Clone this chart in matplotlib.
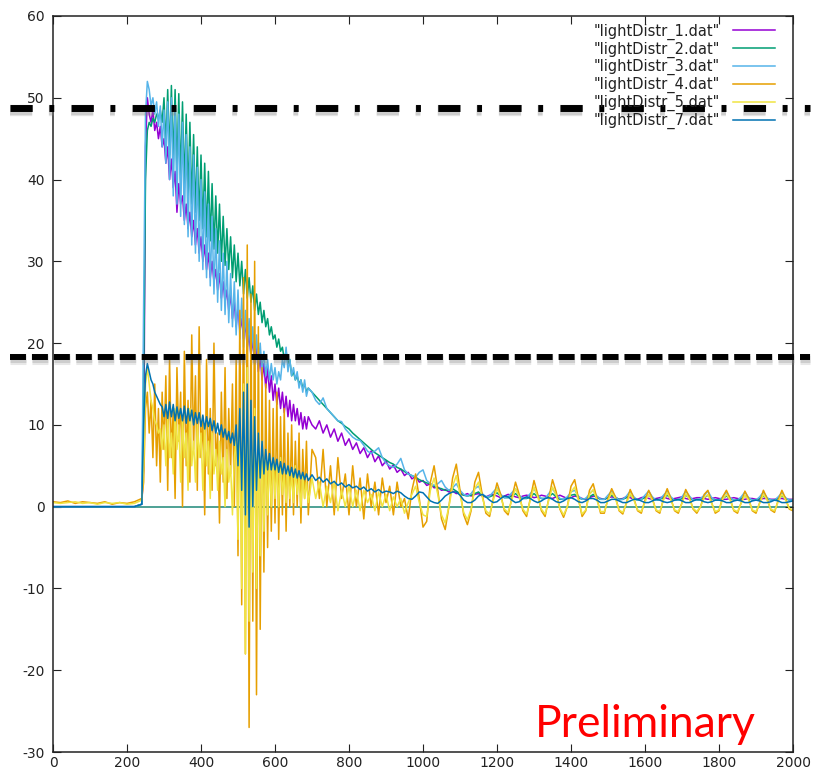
import numpy as np
import matplotlib
matplotlib.use('agg')
import matplotlib.pyplot as plt

# sample positions: coarse before the pulse, fine through the noisy part, medium in the tail
X_HEAD = np.arange(0, 241, 20)
X_MID = np.arange(245, 691, 5)
X_TAIL = np.arange(700, 2001, 10)

HEAD_ZERO = [0, 0, 0, 0, 0, 0, 0, 0, 0, 0, 0, 0, 0.3]

# lightDistr_1
D1_MID = [5, 44, 50, 48, 47, 48.5, 46, 47, 45, 46.5,
          44, 45, 42, 44, 40, 42.5, 39, 41, 36, 39.5,
          37, 38, 35, 37, 34, 36, 33, 35, 32, 34,
          31, 33, 30, 32, 29, 31, 28, 30, 27.5, 29,
          26.5, 28.5, 25.5, 27.5, 25, 26.5, 24, 26, 23, 25,
          22, 24.5, 21.5, 23, 20.5, 22.5, 19.5, 21, 18.5, 20.5,
          17.5, 19.5, 16.5, 18.5, 15.5, 17.5, 14.5, 17, 14, 16,
          13, 15, 12.5, 14.5, 12, 14, 11.5, 13.5, 11, 13,
          10.5, 12.5, 10.5, 12, 10, 11.5, 9.5, 11, 9.5, 11]
D1_TAIL = [10, 9.5, 10.5, 9, 10, 8.5, 9.5, 8, 9, 7.5,
           8.3, 7, 7.8, 6.5, 7.2, 6, 6.8, 5.5, 6.2, 5,
           5.6, 4.6, 5.1, 4.2, 4.6, 3.8, 4.2, 3.4, 3.7, 3,
           3.2, 2.6, 2.8, 2.3, 2.4, 2, 2.1, 1.8, 1.9, 1.6,
           1.7, 1.4, 1.6, 1.3, 1.5, 1.6, 1.3, 1.2, 1.4, 1.5,
           1.3, 1.1, 1.3, 1.5, 1.4, 1.2, 1.1, 1.3, 1.4, 1.3,
           1.1, 1.2, 1.4, 1.3, 1.1, 1.0, 1.2, 1.4, 1.2, 1.0,
           1.1, 1.3, 1.2, 1.0, 0.9, 1.1, 1.3, 1.2, 1.0, 0.9,
           1.1, 1.2, 1.1, 0.9, 1.0, 1.2, 1.1, 0.9, 0.9, 1.1,
           1.2, 1.0, 0.9, 1.0, 1.1, 1.2, 1.0, 0.9, 1.0, 1.1,
           1.2, 1.0, 0.9, 1.0, 1.1, 1.1, 1.0, 0.9, 1.0, 1.1,
           1.0, 0.9, 0.9, 1.0, 1.1, 1.0, 0.9, 0.9, 1.0, 1.0,
           0.9, 0.9, 1.0, 1.0, 0.9, 0.9, 1.0, 1.0, 0.9, 0.9,
           0.9]

# lightDistr_2
D2_MID = [15, 40, 46, 47, 46.5, 47.5, 47, 48, 47.5, 48.5,
          47, 50, 44, 51, 43, 51.5, 42, 51, 41, 50.5,
          40, 49.5, 39, 48, 38, 47, 37, 45.5, 36, 44,
          35, 43, 34, 42, 33, 41, 32.5, 39.5, 31.5, 38,
          31, 37, 30, 35.5, 29.5, 34, 29, 33, 28, 32,
          27.5, 31, 27, 30, 26, 29, 25.5, 28, 25, 27,
          24, 26, 23.5, 25, 22.5, 24, 22, 23, 21, 22,
          20.5, 21, 19.5, 20.5, 19, 19.5, 18, 19, 17.5, 18,
          16, 16.5, 15.5, 16, 15, 15.5, 14.5, 15, 14, 14.5]
D2_TAIL = [14, 13.5, 13, 12.5, 12, 11.5, 11, 10.5, 10.2, 9.8,
           9.5, 9, 8.6, 8.2, 7.8, 7.4, 7, 6.6, 6.3, 6,
           5.7, 5.4, 5.2, 4.8, 4.6, 4.3, 4, 3.8, 3.6, 3.3,
           3.1, 2.9, 2.8, 2.5, 2.3, 2.2, 2.0, 2.0, 2.2, 1.9,
           1.6, 1.4, 1.3, 1.4, 1.6, 1.8, 1.4, 1.2, 1.2, 1.4,
           1.7, 1.3, 1.1, 1.1, 1.3, 1.6, 1.2, 1.0, 1.0, 1.2,
           1.6, 1.2, 1.0, 1.0, 1.2, 1.6, 1.2, 0.9, 0.9, 1.1,
           1.4, 1.5, 1.1, 0.9, 1.0, 1.2, 1.5, 1.1, 0.9, 0.9,
           1.1, 1.4, 1.1, 0.9, 0.9, 1.1, 1.4, 1.0, 0.8, 0.9,
           1.1, 1.4, 1.0, 0.8, 0.9, 1.1, 1.4, 1.0, 0.8, 0.8,
           1.0, 1.4, 1.1, 0.8, 0.8, 0.9, 1.1, 1.4, 1.0, 0.8,
           0.8, 1.0, 1.3, 1.0, 0.8, 0.8, 1.0, 1.3, 1.0, 0.8,
           0.8, 1.0, 1.3, 1.0, 0.8, 0.8, 1.0, 1.3, 1.0, 0.8,
           0.8]

# lightDistr_3
D3_MID = [25, 48, 52, 51, 49, 50, 48, 49.5, 46.5, 49,
          44, 48.5, 42, 49.5, 40, 50, 38, 49, 37, 48,
          35.5, 47, 34.5, 45.5, 33, 44, 32, 43, 31, 41.5,
          30, 40, 29, 38.5, 28, 37, 27, 35.5, 26, 34,
          25, 32.5, 24, 31, 23.5, 30, 22.5, 28.5, 22, 27.5,
          21, 26.5, 20.5, 25.5, 19.5, 24, 19, 23, 18, 22,
          17.5, 21, 17, 20, 16.5, 19, 16, 18, 15.5, 17.5,
          15.5, 17, 15, 16.5, 15.5, 18, 17, 19.5, 16.5, 18,
          16, 17, 15.5, 16.5, 14.5, 15.5, 14, 15.5, 13.5, 14.5]
D3_TAIL = [14, 13, 12.5, 13.3, 12, 11.5, 11, 10.5, 10.4, 9.5,
           9, 8.5, 8.2, 8.1, 7.5, 6.8, 6.5, 6.8, 7.2, 6,
           5.3, 5, 4.8, 5.2, 5.9, 4.5, 4, 3.8, 3.6, 4.2,
           4.5, 3.2, 2.8, 2.6, 2.8, 3.2, 2.4, 2.0, 2.3, 2.8,
           2, 1.5, 1.3, 1.6, 2.2, 2.5, 1.6, 1.2, 1.3, 1.8,
           2.3, 1.5, 1.1, 1.2, 1.7, 2.2, 1.4, 1.0, 1.1, 1.6,
           2.2, 1.4, 1.0, 1.0, 1.6, 2.2, 1.5, 1.0, 0.9, 1.2,
           1.8, 2.0, 1.3, 0.9, 1.0, 1.6, 2.0, 1.3, 0.9, 0.9,
           1.4, 1.9, 1.2, 0.8, 0.9, 1.3, 1.9, 1.2, 0.8, 0.9,
           1.4, 1.9, 1.2, 0.8, 0.9, 1.4, 1.9, 1.2, 0.8, 0.8,
           1.2, 1.9, 1.3, 0.8, 0.8, 1.0, 1.4, 1.9, 1.1, 0.8,
           0.8, 1.2, 1.8, 1.1, 0.8, 0.8, 1.2, 1.8, 1.1, 0.8,
           0.8, 1.2, 1.8, 1.1, 0.8, 0.8, 1.2, 1.7, 1.1, 0.8,
           0.8]

# lightDistr_4
D4_HEAD = [0.6, 0.5, 0.7, 0.4, 0.6, 0.5, 0.4, 0.6, 0.3, 0.5, 0.4, 0.6, 1.0]
D4_MID = [3, 12, 14, 9, 13, 6, 15, 5, 12, 3,
          14, 7, 16, 2, 18, 6, 12, 1, 17, 8,
          14, 0, 19, 5, 13, 3, 21, 7, 16, 2,
          22, 6, 11, -1, 18, 4, 12, 2, 20, 5,
          9, -2, 14, 3, 17, 1, 12, 4, 15, 0,
          18, -6, 24, -12, 28, -18, 32, -27, 26, -14,
          30, -23, 22, -15, 17, -8, 15, -5, 13, -3,
          12, -2, 14, -4, 11, -1, 12, -3, 9, 0,
          10, -1, 8, 0, 9, -2, 7, 1, 8, -1]
D4_TAIL = [7, 6, 1, 7, 0, 5, -1, 6, 1, 4,
           -1, 5, 0, 3.5, -1.5, 4, 0, 3, -1, 3.5,
           0.5, 2.5, -1, 3, 0, 1, -1.5, 2, 4, 1,
           -2.5, -1.8, 3, 5, 2, -1.5, -2.8, 0, 3.5, 5.2,
           2, -1, -2.2, -0.5, 3, 4.2, 1.5, -0.8, -1.2, 1,
           2.9, 1.5, -0.5, -1, 1, 3, 1.5, -0.5, -1.2, 1,
           3.2, 1.5, -0.5, -1.2, 1, 3.3, 1.8, -0.3, -1.3, 0,
           2.5, 3.3, 1, -1.2, -0.5, 2, 2.8, 1, -0.8, -0.8,
           1, 2.2, 1.2, -0.5, -0.9, 0.5, 2.1, 1, -0.5, -0.8,
           0.8, 2, 1, -0.5, -0.8, 1, 2.2, 1, -0.5, -0.8,
           0.5, 2.1, 1.2, -0.3, -0.8, 0, 1.5, 2, 0.5, -0.8,
           -0.5, 1.2, 2, 1, -0.5, -0.8, 0.5, 1.9, 1, -0.5,
           -0.8, 0.5, 2, 1, -0.4, -0.7, 0.8, 2, 1, -0.3,
           -0.5]

# lightDistr_5
D5_HEAD = [0.5, 0.4, 0.5, 0.6, 0.4, 0.5, 0.3, 0.5, 0.4, 0.5, 0.3, 0.4, 0.8]
D5_MID = [5, 15, 17, 15, 13, 12, 10.5, 10, 9, 9.5,
          7, 10, 5, 11, 6, 9, 4, 12, 7, 10,
          3, 11, 6, 9, 2, 12, 5, 8, 3, 10,
          6, 9, 2, 10, 5, 8, 1, 9, 4, 7,
          2, 8, 4, 6, 0, 7, 3, 5, -1, 6,
          8, -4, 12, -10, 15, -18, 17, -14, 10, -8,
          12, -10, 9, -6, 8, -3, 7, -1, 6, 0,
          6, 1, 5, 0, 6, 1.5, 4, 0.5, 5, 1,
          4, 0.5, 5, 1.5, 3.5, 0, 4, 1, 3, 0.5]
D5_TAIL = [3.5, 1, 3, 0, 2.5, 0.5, 3, -0.5, 2, 0,
           2.5, 0, 2, -0.5, 2, 0.5, 1.5, -0.5, 1.8, 0,
           1.5, -0.5, 1.2, 0, 1, -0.8, 0.5, 1.5, 2.5, 0.5,
           -1, -1.2, 2, 3.5, 1.5, -1, -2, 0, 2.5, 3.8,
           1.5, -0.7, -1.6, -0.3, 2.2, 3, 1.2, -0.5, -0.9, 0.8,
           2.2, 1.2, -0.3, -0.7, 0.8, 2.2, 1.2, -0.3, -0.9, 0.8,
           2.4, 1.2, -0.3, -0.9, 0.8, 2.4, 1.4, -0.2, -1, 0,
           1.8, 2.4, 0.8, -0.9, -0.4, 1.5, 2.1, 0.8, -0.6, -0.6,
           0.8, 1.7, 1, -0.4, -0.7, 0.4, 1.6, 0.8, -0.4, -0.6,
           0.6, 1.5, 0.8, -0.4, -0.6, 0.8, 1.7, 0.8, -0.4, -0.6,
           0.4, 1.6, 0.9, -0.2, -0.6, 0, 1.1, 1.5, 0.4, -0.6,
           -0.4, 0.9, 1.5, 0.8, -0.4, -0.6, 0.4, 1.4, 0.8, -0.4,
           -0.6, 0.4, 1.5, 0.8, -0.3, -0.5, 0.6, 1.5, 0.8, -0.2,
           -0.4]

# lightDistr_7
D7_MID = [10, 16, 17.5, 16.5, 15.5, 15, 14, 13.5, 13, 12.5,
          12.2, 11, 12.5, 10.8, 12.8, 11, 12.5, 10.5, 12.2, 10.8,
          12, 10.5, 12.3, 10.2, 12, 10.5, 11.8, 10, 11.5, 10.2,
          11.5, 9.8, 11.2, 9.5, 11, 9.8, 10.8, 9.3, 10.5, 9,
          10.2, 8.8, 10, 8.5, 9.5, 8.2, 9.2, 7.8, 9, 7.5,
          10, 5, 12, 2, 14, -1, 15, -2.5, 13, 0,
          11, 2, 9, 3.5, 8, 4, 7, 4.5, 6.5, 4.5,
          6, 4.5, 5.8, 4.2, 5.5, 4, 5.3, 4, 5, 3.8,
          4.8, 3.6, 4.6, 3.5, 4.4, 3.4, 4.2, 3.3, 4.0, 3.2]
D7_TAIL = [3.9, 3.2, 3.6, 3, 3.4, 2.8, 3.1, 2.6, 2.9, 2.4,
           2.7, 2.3, 2.5, 2.1, 2.4, 1.9, 2.2, 1.8, 2.1, 1.7,
           1.9, 1.8, 1.6, 1.9, 1.7, 1.3, 1.0, 0.9, 1.3, 1.8,
           1.7, 1.2, 0.7, 0.5, 0.4, 0.8, 1.3, 1.6, 1.8, 1.8,
           1.4, 0.8, 0.5, 0.5, 0.8, 1.3, 1.5, 1.2, 0.8, 0.5,
           0.6, 1.0, 1.3, 1.2, 0.8, 0.5, 0.6, 1.0, 1.2, 1.0,
           0.7, 0.5, 0.7, 1.0, 1.1, 0.9, 0.6, 0.5, 0.7, 1.0,
           1.1, 0.9, 0.6, 0.5, 0.7, 1.0, 1.0, 0.8, 0.5, 0.5,
           0.7, 0.9, 0.9, 0.7, 0.5, 0.5, 0.7, 0.9, 0.9, 0.7,
           0.5, 0.5, 0.7, 0.9, 0.8, 0.6, 0.5, 0.6, 0.8, 0.9,
           0.7, 0.5, 0.5, 0.7, 0.9, 0.8, 0.6, 0.5, 0.6, 0.8,
           0.8, 0.7, 0.5, 0.5, 0.7, 0.8, 0.7, 0.5, 0.5, 0.7,
           0.8, 0.7, 0.5, 0.5, 0.6, 0.8, 0.7, 0.5, 0.5, 0.6,
           0.7]

LABELS = ['"lightDistr_1.dat"', '"lightDistr_2.dat"', '"lightDistr_3.dat"',
          '"lightDistr_4.dat"', '"lightDistr_5.dat"', '"lightDistr_7.dat"']
COLORS = ['#9400d3', '#009e73', '#56b4e9', '#e69f00', '#f0e442', '#0072b2']

SERIES = [
    (HEAD_ZERO, D1_MID, D1_TAIL),
    (HEAD_ZERO, D2_MID, D2_TAIL),
    (HEAD_ZERO, D3_MID, D3_TAIL),
    (D4_HEAD, D4_MID, D4_TAIL),
    (D5_HEAD, D5_MID, D5_TAIL),
    (HEAD_ZERO, D7_MID, D7_TAIL),
]

HIGH_LEVEL = 48.7   # dash-dot marker line
LOW_LEVEL = 18.3    # dashed marker line

X_TICKS = np.arange(0, 2001, 200)
Y_TICKS = np.arange(-30, 61, 10)

plt.rcParams['lines.scale_dashes'] = False
plt.rcParams['axes.unicode_minus'] = False  # gnuplot prints a plain hyphen

fig = plt.figure(figsize=(8.13, 7.75), dpi=100)
ax = fig.add_axes([53 / 813, 23 / 775, 740 / 813, 736 / 775])

x = np.concatenate([X_HEAD, X_MID, X_TAIL])

# flat line sitting on zero all the way across
ax.axhline(0, color='#3f9a8c', lw=1.3, zorder=1)

for (head, mid, tail), label, color in zip(SERIES, LABELS, COLORS):
    y = np.concatenate([head, mid, tail])
    assert len(y) == len(x), label
    ax.plot(x, y, color=color, lw=1.1, label=label, zorder=2)

ax.set_xlim(0, 2000)
ax.set_ylim(-30, 60)
ax.set_xticks(X_TICKS)
ax.set_yticks(Y_TICKS)
ax.tick_params(direction='in', length=6, width=0.8, top=True, right=True,
               labelsize=10, colors='#222222')
ax.tick_params(axis='x', pad=3)
ax.tick_params(axis='y', pad=6)
for sp in ax.spines.values():
    sp.set_linewidth(1.1)
    sp.set_color('#222222')

leg = ax.legend(loc='upper right', bbox_to_anchor=(0.976, 0.99), frameon=False,
                markerfirst=False, fontsize=10.5, labelspacing=0.12,
                handlelength=2.9, handletextpad=0.9, borderpad=0, borderaxespad=0)
for t in leg.get_texts():
    t.set_color('#222222')

# the two hand-drawn threshold lines run past the frame on both sides
ytr = ax.get_yaxis_transform()
x0, x1 = -0.058, 1.023
for dy, a in [(-2.5 / 8.18, 0.18), (-1.2 / 8.18, 0.25)]:
    ax.plot([x0, x1], [HIGH_LEVEL + dy, HIGH_LEVEL + dy], transform=ytr, clip_on=False,
            color='gray', lw=7.5, alpha=a, ls=(0, (16, 12, 3.5, 12.5)), zorder=4)
    ax.plot([x0, x1], [LOW_LEVEL + dy, LOW_LEVEL + dy], transform=ytr, clip_on=False,
            color='gray', lw=6.5, alpha=a, ls=(0, (11.5, 4.3)), zorder=4)
ax.plot([x0, x1], [HIGH_LEVEL, HIGH_LEVEL], transform=ytr, clip_on=False,
        color='black', lw=5.0, ls=(0, (16, 12, 3.5, 12.5)), zorder=5)
ax.plot([x0, x1], [LOW_LEVEL, LOW_LEVEL], transform=ytr, clip_on=False,
        color='black', lw=4.3, ls=(0, (11.5, 4.3)), zorder=5)

fig.text(535 / 813, 1 - 737 / 775, 'Preliminary', color='red', fontsize=32,
         family='Lato', ha='left', va='baseline')

fig.savefig('out.png', dpi=100)
